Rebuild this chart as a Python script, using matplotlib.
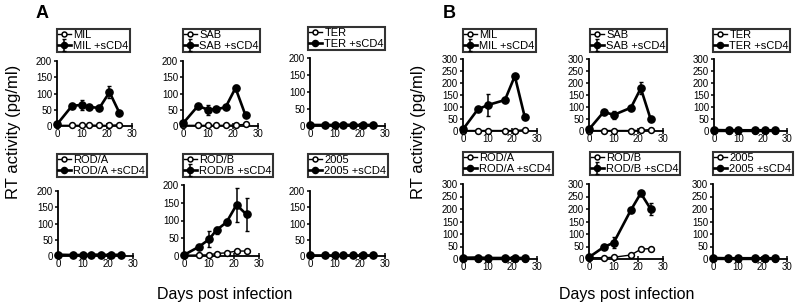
import matplotlib
matplotlib.use('Agg')
import matplotlib.pyplot as plt

plt.rcParams['font.family'] = ['Liberation Sans', 'DejaVu Sans']

# days sampled
days_A = [0, 6, 10, 13, 17, 21, 25]
days_B = [0, 6, 10, 17, 21, 25]

isolates = ['MIL', 'SAB', 'TER', 'ROD/A', 'ROD/B', '2005']

# panel A: RT activity (pg/ml)
A_plain = {
    'MIL':   [2, 2, 2, 3, 2, 2, 4],
    'SAB':   [2, 2, 2, 2, 2, 3, 5],
    'TER':   [2, 2, 2, 2, 2, 2, 2],
    'ROD/A': [2, 2, 2, 2, 2, 2, 2],
    'ROD/B': [2, 3, 3, 7, 9, 14, 14],
    '2005':  [2, 2, 2, 2, 2, 2, 2],
}
A_scd4 = {
    'MIL':   [5, 62, 65, 58, 56, 104, 40],
    'SAB':   [8, 62, 50, 52, 57, 117, 33],
    'TER':   [3, 3, 3, 4, 3, 3, 3],
    'ROD/A': [4, 3, 3, 4, 4, 3, 4],
    'ROD/B': [3, 26, 47, 73, 95, 144, 117],
    '2005':  [3, 3, 3, 3, 3, 3, 3],
}
A_err = {
    'MIL':   [0, 0, 15, 0, 0, 18, 0],
    'SAB':   [0, 0, 15, 0, 0, 8, 0],
    'ROD/B': [0, 3, 23, 10, 8, 48, 47],
}

# panel B
B_plain = {
    'MIL':   [2, 2, 2, 2, 2, 5],
    'SAB':   [2, 2, 2, 2, 3, 6],
    'TER':   [2, 2, 2, 2, 2, 2],
    'ROD/A': [2, 2, 2, 2, 2, 2],
    'ROD/B': [5, 5, 7, 16, 39, 42],
    '2005':  [2, 2, 2, 2, 2, 2],
}
B_scd4 = {
    'MIL':   [7, 90, 108, 129, 229, 60],
    'SAB':   [7, 80, 67, 97, 178, 49],
    'TER':   [4, 3, 3, 3, 3, 3],
    'ROD/A': [5, 6, 4, 4, 4, 4],
    'ROD/B': [7, 48, 65, 196, 263, 200],
    '2005':  [4, 3, 3, 3, 3, 3],
}
B_err = {
    'MIL':   [0, 0, 45, 8, 0, 0],
    'SAB':   [0, 0, 15, 8, 25, 0],
    'ROD/B': [0, 4, 22, 5, 6, 25],
}

W, H = 800, 307

# pixel layout: (x of day 0, x of day 30, y of top tick, y of zero), legend top-left
layout_A = [
    (57, 132, 61, 126, 57, 29), (183, 258, 61, 126, 183, 29), (310, 385, 58, 126, 308, 27),
    (58, 133, 191, 256, 57, 154), (184, 259, 185, 256, 183, 154), (310, 385, 191, 256, 308, 154),
]
layout_B = [
    (463, 537, 59, 131, 463, 29), (589, 663, 59, 131, 590, 29), (714, 787, 59, 131, 713, 29),
    (463, 537, 184, 259, 463, 152), (589, 663, 184, 259, 590, 152), (713, 787, 184, 259, 713, 152),
]


def drawPanel(fig, layout, days, plain, scd4, errs, ymax):
    for name, (x0, x1, yt, y0, lx, ly) in zip(isolates, layout):
        ax = fig.add_axes([x0 / W, 1 - y0 / H, (x1 - x0) / W, (y0 - yt) / H])
        l1, = ax.plot(days, plain[name], '-o', color='black', lw=1.0, ms=4.2,
                      mfc='white', mec='black', mew=1.1, clip_on=False, zorder=3)
        l2 = ax.errorbar(days, scd4[name], yerr=errs.get(name), fmt='-o', color='black',
                         lw=1.9, ms=5.2, elinewidth=1.1, capsize=1.3, capthick=1.0,
                         clip_on=False, zorder=4)
        ax.set_xlim(0, 30)
        ax.set_ylim(0, ymax)
        ax.set_xticks([0, 10, 20, 30])
        ax.set_yticks(range(0, ymax + 1, 50))
        for s in ['top', 'right']:
            ax.spines[s].set_visible(False)
        for s in ['left', 'bottom']:
            ax.spines[s].set_linewidth(1.3)
        ax.tick_params(axis='x', direction='inout', length=4, width=1.1, labelsize=7, pad=0)
        ax.tick_params(axis='y', direction='out', length=2.5, width=1.1, labelsize=7, pad=1)
        ax.patch.set_alpha(0)
        leg = ax.legend([l1, l2], [name, name + ' +sCD4'], loc='upper left',
                        bbox_to_anchor=(lx / W, 1 - ly / H), bbox_transform=fig.transFigure,
                        fontsize=8, frameon=True, fancybox=False, handlelength=1.1,
                        handletextpad=0.25, labelspacing=0.05, borderpad=0.12,
                        borderaxespad=0, markerscale=0.85)
        leg.get_frame().set_edgecolor('black')
        leg.get_frame().set_linewidth(1.5)


fig = plt.figure(figsize=(W / 100, H / 100), dpi=100)
drawPanel(fig, layout_A, days_A, A_plain, A_scd4, A_err, 200)
drawPanel(fig, layout_B, days_B, B_plain, B_scd4, B_err, 300)

fig.text(42 / W, 1 - 13 / H, 'A', fontsize=13, fontweight='bold', ha='center', va='center')
fig.text(449 / W, 1 - 13 / H, 'B', fontsize=13, fontweight='bold', ha='center', va='center')
fig.text(14 / W, 1 - 132 / H, 'RT activity (pg/ml)', fontsize=12, rotation=90, ha='center', va='center')
fig.text(418 / W, 1 - 132 / H, 'RT activity (pg/ml)', fontsize=12, rotation=90, ha='center', va='center')
fig.text(225 / W, 1 - 295 / H, 'Days post infection', fontsize=11.5, ha='center', va='center')
fig.text(627 / W, 1 - 295 / H, 'Days post infection', fontsize=11.5, ha='center', va='center')

fig.savefig('out.png', dpi=100)
